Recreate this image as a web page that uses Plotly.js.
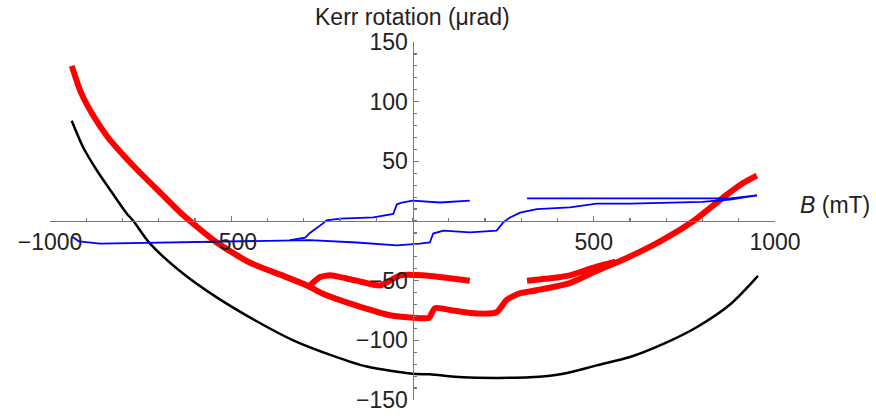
<!DOCTYPE html>
<html>
<head>
<meta charset="utf-8">
<script src="https://cdn.plot.ly/plotly-3.0.1.min.js"></script>
<style>html,body{margin:0;padding:0;background:#fff;}#chart{width:876px;height:417px;}</style>
</head>
<body>
<div id="chart"></div>
<script>
// Black curve
var blackX = [-940, -909, -871, -834, -789, -770, -724, -633, -540, -430, -329, -219, -126, 0, 48, 139, 324, 416, 508, 600, 692, 784, 876, 953];
var blackY = [84, 62, 42.5, 26, 6.5, 0, -19, -44, -64, -84, -100, -113, -122, -128, -128.5, -131, -131, -128, -121, -114, -103, -89, -70, -46];

// Red curve: main branch (left + lower loop branch + merged right band)
var redLowerX = [-940, -915, -880, -840, -800, -750, -700, -633, -540, -448, -356, -291, -247, -154, -62, 29, 46, 62, 112, 177, 232, 260, 297, 343, 434, 499, 591, 683, 775, 821, 867, 913, 950];
var redLowerY = [130, 108, 88, 70, 56, 40, 25, 5, -18, -35, -46, -54, -61, -71, -79, -81.5, -81, -73, -75, -77.5, -76.5, -66, -60.5, -58, -52, -43, -31, -17, 0, 11, 22, 32, 38];
// Red curve: upper loop branch (with a gap)
var redUpperX = [-283, -255, -228, -154, -90, -34, 29, 103, 158, null, 316, 380, 434, 499, 560];
var redUpperY = [-54, -47, -45.5, -50, -54, -45.5, -45.5, -48, -50, null, -50, -48, -45.5, -39, -34];

// Blue curve: lower loop branch
var blueLowerX = [-940, -920, -862, -700, -500, -338, -283, -154, -43, 20, 48, 57, 85, 158, 232, 251, 269, 297, 343, 434, 508, 600, 700, 800, 876, 950];
var blueLowerY = [-13, -17, -19, -18, -17, -16, -16, -18, -20.5, -19, -18, -10.5, -8, -9.5, -8, -1, 3, 7, 10, 11.5, 14.5, 14.5, 15, 16, 18, 21.5];
// Blue curve: upper loop branch (with a gap)
var blueUpperX = [950, 876, 800, 700, 600, 500, 434, 316, null, 158, 76, 0, -29, -43, -53, -108, -200, -237, -247, -283, -296, -338];
var blueUpperY = [21.5, 19, 19, 19, 19, 19, 19, 19, null, 17, 15.5, 17, 15.5, 14, 6, 3, 2, 0.5, -2, -10, -14, -16];

var xTicks = [-1000, -500, 500, 1000];
var yTicks = [-150, -100, -50, 50, 100, 150];

var traces = [
  {x: blackX, y: blackY, mode: 'lines', line: {color: '#000000', width: 2.5, shape: 'spline', smoothing: 0.8}, connectgaps: false},
  {x: redLowerX, y: redLowerY, mode: 'lines', line: {color: '#ff0000', width: 6, shape: 'spline', smoothing: 0.6}, connectgaps: false},
  {x: redUpperX, y: redUpperY, mode: 'lines', line: {color: '#ff0000', width: 6, shape: 'spline', smoothing: 0.5}, connectgaps: false},
  {x: blueLowerX, y: blueLowerY, mode: 'lines', line: {color: '#0000ff', width: 1.8}, connectgaps: false},
  {x: blueUpperX, y: blueUpperY, mode: 'lines', line: {color: '#0000ff', width: 1.8}, connectgaps: false}
];

var axisFont = {family: 'Liberation Sans, Arial, sans-serif', size: 23, color: '#222'};

var layout = {
  width: 876, height: 417,
  margin: {l: 50, r: 101, t: 42, b: 17, pad: 0},
  paper_bgcolor: '#fff', plot_bgcolor: '#fff',
  showlegend: false,
  xaxis: {
    range: [-1000, 1000], anchor: 'free', position: 0.5,
    showgrid: false, zeroline: false, showline: true, linecolor: '#777', linewidth: 1.2,
    tickmode: 'array', tickvals: xTicks, ticks: 'inside', ticklen: 5, tickcolor: '#777', tickwidth: 1.2,
    minor: {tickmode: 'linear', tick0: 0, dtick: 100, ticks: 'inside', ticklen: 3, tickcolor: '#777'},
    tickfont: axisFont, automargin: false
  },
  yaxis: {
    range: [-150, 150], anchor: 'free', position: 0.5,
    showgrid: false, zeroline: false, showline: true, linecolor: '#777', linewidth: 1.2,
    tickmode: 'array', tickvals: yTicks, ticks: 'inside', ticklen: 5, tickcolor: '#777', tickwidth: 1.2,
    minor: {tickmode: 'linear', tick0: 0, dtick: 10, ticks: 'inside', ticklen: 3, tickcolor: '#777'},
    tickfont: axisFont, automargin: false
  },
  annotations: [
    {text: 'Kerr rotation (μrad)', xref: 'paper', yref: 'paper', x: 0.5, y: 1.07, xanchor: 'center', yanchor: 'middle', showarrow: false, font: axisFont},
    {text: '<i>B</i> (mT)', xref: 'paper', yref: 'paper', x: 1.032, y: 0.545, xanchor: 'left', yanchor: 'middle', showarrow: false, font: axisFont}
  ]
};

Plotly.newPlot('chart', traces, layout, {staticPlot: true, displayModeBar: false});
</script>
</body>
</html>
